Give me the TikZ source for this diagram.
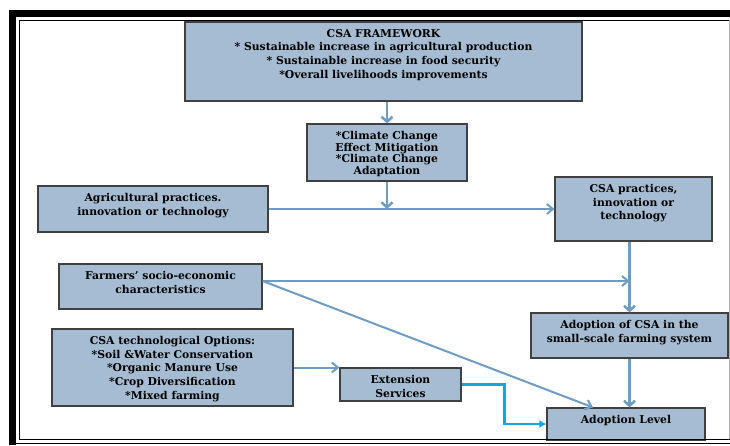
\documentclass[tikz,border=0pt]{standalone}
\usepackage{fontspec}
\setmainfont{DejaVu Serif}
\usetikzlibrary{arrows.meta}
\definecolor{boxfill}{HTML}{A5BCD2}
\definecolor{arrowblue}{HTML}{6F9CC2}
\definecolor{cyanline}{HTML}{14A4E0}

\begin{document}
\begin{tikzpicture}[x=1pt,y=-1pt,
  box/.style={draw=black!75,line width=1.2pt,fill=boxfill,inner sep=0pt},
  txt/.style={anchor=north,align=center,inner sep=1.5pt,yshift=-6pt,font=\bfseries\fontsize{10.8}{13.7}\selectfont},
  arr/.style={arrowblue,line width=2.5pt,-{Straight Barb[length=5pt,width=11pt]}},
  thinarr/.style={arrowblue,line width=2pt,-{Straight Barb[length=6pt,width=10pt]}},
  cyanarr/.style={cyanline,line width=2.5pt,-{Latex[length=7pt,width=8pt]}}]
\useasboundingbox (0,0) rectangle (730,445);
\fill[white] (0,0) rectangle (730,445);

\node[box,minimum width=397pt,minimum height=79pt] (frame) at (383.5,61.5) {};
\node[txt] (frame-t) at (frame.north) {CSA FRAMEWORK\\* Sustainable increase in agricultural production\\* Sustainable increase in food security\\*Overall livelihoods improvements};
\node[box,minimum width=160pt,minimum height=57pt] (clim) at (387,152.5) {};
\node[txt,font=\bfseries\fontsize{10.8}{11.7}\selectfont] (clim-t) at (clim.north) {*Climate Change\\Effect Mitigation\\*Climate Change\\Adaptation};
\node[box,minimum width=230pt,minimum height=46pt] (agri) at (153,209) {};
\node[txt] (agri-t) at (agri.north) {Agricultural practices.\\innovation or technology};
\node[box,minimum width=157pt,minimum height=64pt] (prac) at (633.5,209) {};
\node[txt] (prac-t) at (prac.north) {CSA practices,\\innovation or\\technology};
\node[box,minimum width=203pt,minimum height=45pt] (farm) at (160.5,286.5) {};
\node[txt] (farm-t) at (farm.north) {Farmers' socio-economic\\characteristics};
\node[box,minimum width=197pt,minimum height=45pt] (ado) at (629.5,335.5) {};
\node[txt] (ado-t) at (ado.north) {Adoption of CSA in the\\small-scale farming system};
\node[box,minimum width=241pt,minimum height=77pt] (opt) at (172.5,367.5) {};
\node[txt] (opt-t) at (opt.north) {CSA technological Options:\\*Soil \&Water Conservation\\*Organic Manure Use\\*Crop Diversification\\*Mixed farming};
\node[box,minimum width=121pt,minimum height=33pt] (ext) at (400.5,384.5) {};
\node[txt] (ext-t) at (ext.north) {Extension\\Services};
\node[box,minimum width=158pt,minimum height=32pt] (level) at (626,424) {};
\node[txt] (level-t) at (level.north) {Adoption Level};
\coordinate (fs) at ([yshift=5.5pt]farm.east);

\draw[arr] (frame.south -| clim.north) -- (clim.north);
\draw[arr] (clim.south) -- (clim.south |- agri.east);
\draw[thinarr] (agri.east) -- (prac.west);
\draw[arr] (ado.north |- prac.south) -- (ado.north);
\draw[thinarr] (fs) -- (fs -| ado.north);
\draw[thinarr] (fs) -- ([xshift=-33pt]level.north);
\draw[arr] (ado.south) -- (ado.south |- level.north);
\draw[thinarr] (opt.east) -- (opt.east -| ext.west);
\draw[cyanarr] (ext.east) -- ++(43,0) |- (level.west);

\draw[line width=7pt] (12.5,445) -- (12.5,13.5) -- (730,13.5);
\draw[line width=1pt] (730,20) -- (19.5,20) -- (19.5,439) -- (730,439);
\draw[line width=1pt] (16,443) -- (730,443);
\draw[black!30,line width=0.8pt] (729.5,20) -- (729.5,439);
\end{tikzpicture}
\end{document}
